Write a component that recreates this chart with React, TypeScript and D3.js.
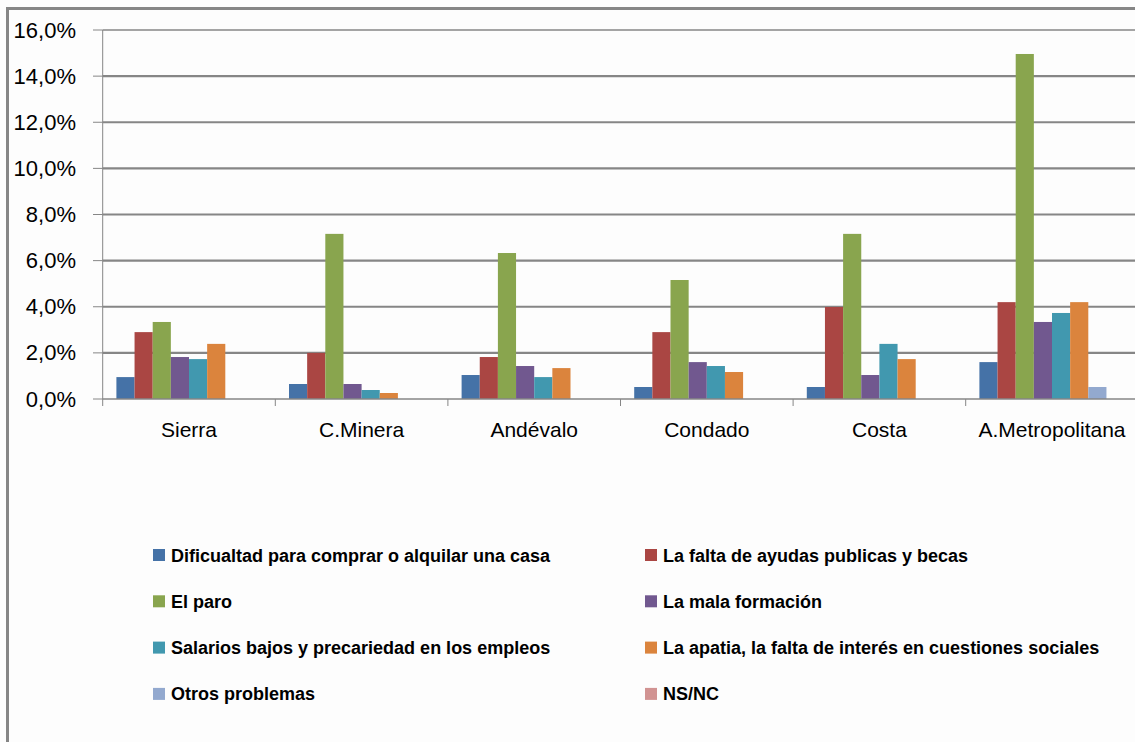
import React from "react";
import * as d3 from "d3";

const categories = ["Sierra", "C.Minera", "Andévalo", "Condado", "Costa", "A.Metropolitana"];

const seriesNames = [
  "Dificualtad para comprar o alquilar una casa",
  "La falta de ayudas publicas y becas",
  "El paro",
  "La mala formación",
  "Salarios bajos y precariedad en los empleos",
  "La apatia, la falta de interés en cuestiones sociales",
  "Otros problemas",
  "NS/NC",
];

const seriesColors = ["#4572A7", "#AA4643", "#89A54E", "#71588F", "#4198AF", "#DB843D", "#93A9CF", "#D19392"];

// values in %, one array per series, ordered like categories
const dificultadCasa = [0.95, 0.65, 1.04, 0.52, 0.52, 1.6];
const faltaAyudas = [2.9, 2.0, 1.82, 2.9, 3.99, 4.2];
const elParo = [3.34, 7.16, 6.33, 5.16, 7.16, 14.96];
const malaFormacion = [1.82, 0.65, 1.43, 1.6, 1.04, 3.34];
const salariosBajos = [1.73, 0.39, 0.95, 1.43, 2.39, 3.73];
const apatia = [2.39, 0.26, 1.34, 1.17, 1.73, 4.2];
const otrosProblemas = [0, 0, 0, 0, 0, 0.52];
const nsnc = [0, 0, 0, 0, 0, 0];

const seriesValues = [dificultadCasa, faltaAyudas, elParo, malaFormacion, salariosBajos, apatia, otrosProblemas, nsnc];

const yTicks = [0, 2, 4, 6, 8, 10, 12, 14, 16];

const W = 1135;
const H = 742;
const FONT = "'Liberation Sans', Arial, sans-serif";
const GRID = "#868686";

export default function App() {
  const x0 = d3.scaleBand<string>().domain(categories).range([102.7, 102.7 + 6 * 172.6]).padding(0);
  const x1 = d3
    .scaleBand<string>()
    .domain(seriesNames)
    .range([0, x0.bandwidth()])
    .paddingInner(0)
    .paddingOuter(0.755);
  const y = d3.scaleLinear().domain([0, 16]).range([399, 30]);
  const fmt = (v: number) => v.toFixed(1).replace(".", ",") + "%";

  const legendCols = [153, 645];
  const legendRow0 = 555;
  const legendRowStep = 46.3;

  return (
    <svg width={W} height={H} style={{ position: "absolute", left: 0, top: 0, background: "#fdfdfd" }}>
      <rect x={0} y={0} width={W} height={H} fill="#fdfdfd" />
      {/* outer chart border (left & top visible) */}
      <line x1={7.5} y1={8} x2={7.5} y2={H} stroke={GRID} strokeWidth={3} />
      <line x1={6} y1={8.5} x2={W} y2={8.5} stroke={GRID} strokeWidth={3} />

      {/* gridlines */}
      {yTicks.map((t) => (
        <g key={"g" + t}>
          {t > 0 && (
            <line
              x1={102.7}
              x2={W}
              y1={y(t)}
              y2={y(t)}
              stroke={GRID}
              strokeWidth={t === 16 ? 1.5 : 2.2}
            />
          )}
          <line x1={93} x2={102.7} y1={y(t)} y2={y(t)} stroke={GRID} strokeWidth={1} />
          <text
            x={76}
            y={y(t) + 7.5}
            textAnchor="end"
            fontFamily={FONT}
            fontSize={22}
            fill="#000"
          >
            {fmt(t)}
          </text>
        </g>
      ))}

      {/* bars */}
      {categories.map((c, ci) => (
        <g key={c} transform={`translate(${x0(c)},0)`}>
          {seriesNames.map((s, si) => {
            const v = seriesValues[si][ci];
            if (!v) return null;
            return (
              <rect
                key={s}
                x={x1(s)}
                y={y(v)}
                width={x1.bandwidth()}
                height={y(0) - y(v)}
                fill={seriesColors[si]}
              />
            );
          })}
        </g>
      ))}

      {/* axes */}
      <line x1={102.7} x2={102.7} y1={30} y2={399} stroke={GRID} strokeWidth={1} />
      <line x1={102.7} x2={W} y1={399} y2={399} stroke={GRID} strokeWidth={1.5} />
      {categories.map((c) => (
        <line key={"t" + c} x1={x0(c)!} x2={x0(c)!} y1={399} y2={406} stroke={GRID} strokeWidth={1} />
      ))}
      <line x1={x0.range()[1]} x2={x0.range()[1]} y1={399} y2={406} stroke={GRID} strokeWidth={1} />

      {categories.map((c) => (
        <text
          key={"l" + c}
          x={x0(c)! + x0.bandwidth() / 2}
          y={437}
          textAnchor="middle"
          fontFamily={FONT}
          fontSize={21}
          fill="#000"
        >
          {c}
        </text>
      ))}

      {/* legend */}
      {seriesNames.map((s, i) => {
        const col = i % 2;
        const row = Math.floor(i / 2);
        const cy = legendRow0 + row * legendRowStep;
        const sx = legendCols[col];
        return (
          <g key={"lg" + s}>
            <rect x={sx} y={cy - 6} width={12} height={12} fill={seriesColors[i]} />
            <text x={sx + 18} y={cy + 6.5} fontFamily={FONT} fontSize={18} fontWeight="bold" fill="#000">
              {s}
            </text>
          </g>
        );
      })}
    </svg>
  );
}
